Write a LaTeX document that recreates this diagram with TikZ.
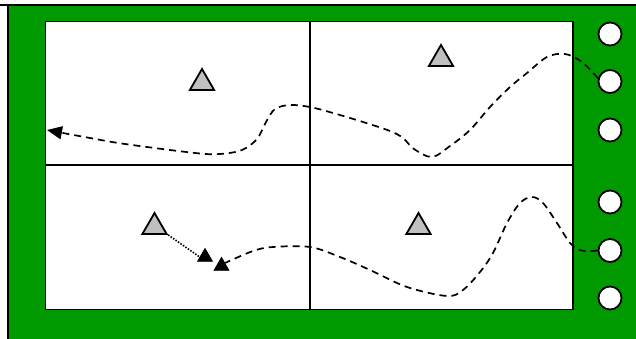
\documentclass[tikz,border=0pt]{standalone}
\usetikzlibrary{shapes.geometric,arrows.meta}
\definecolor{fieldgreen}{RGB}{0,153,0}
\definecolor{tgray}{RGB}{192,192,192}
\begin{document}
\begin{tikzpicture}[x=1pt,y=-1pt,
  hole/.style={circle,draw=black,fill=white,line width=1.8pt,minimum size=23pt,inner sep=0pt},
  graytri/.style={regular polygon,regular polygon sides=3,draw=black,fill=tgray,line width=1.8pt,minimum size=28pt,inner sep=0pt},
  blacktri/.style={regular polygon,regular polygon sides=3,draw=black,fill=black,line width=0.8pt,minimum size=17pt,inner sep=0pt},
  path1/.style={line width=1.7pt,dash pattern=on 7pt off 5pt},
  dots/.style={line width=1.6pt,dash pattern=on 1.5pt off 1.5pt}]
\useasboundingbox (0,0) rectangle (636,339);
\fill[fieldgreen] (8,5) rectangle (636,339);
\draw[line width=2pt] (0,4.7) -- (636,4.7);
\draw[line width=2pt] (7.7,3.8) -- (7.7,339);
\draw[line width=1.7pt,fill=white] (45.5,21.5) rectangle (573,309.5);
\draw[line width=1.6pt] (310,21.5) -- (310,309.5);
\draw[line width=1.6pt] (45.5,165) -- (573,165);
% circles
\node[hole] (c1) at (610,34) {};
\node[hole] (c2) at (610,81.5) {};
\node[hole] (c3) at (610,130) {};
\node[hole] (c4) at (610,202) {};
\node[hole] (c5) at (610,250.5) {};
\node[hole] (c6) at (610,298) {};
% triangles
\node[graytri] (t1) at (202,83) {};
\node[graytri] (t2) at (441,59) {};
\node[graytri] (t3) at (154.5,227) {};
\node[graytri] (t4) at (418.5,227) {};
\node[blacktri] (b1) at (205,257) {};
\node[blacktri] (b2) at (221.5,266) {};
\coordinate (e1) at (47,130);
% dashed curve 1
\draw[path1,-{Triangle[length=15pt,width=13pt]}] plot[smooth,tension=0.55] coordinates {(c2.165) (582,62) (565,54) (547,57) (527,73) (510,87) (490,107) (470,130) (450,146) (432,157) (414,149) (403,138) (390,131) (363,122) (333,113) (310,107) (290,105) (275,109) (266,122) (257,139) (242,150) (220,154) (195,153) (125,144) (90,138) (e1)};
% dashed curve 2
\draw[path1] plot[smooth,tension=0.55] coordinates {(c5.west) (590,251) (580,250) (570,243) (557,223) (543,203) (532,197) (520,203) (507,223) (493,253) (480,272) (463,290) (447,296) (407,287) (370,270) (340,257) (310,247) (273,247) (253,251) (b2.40)};
% dotted connector
\draw[dots] (t3.corner 3) -- (b1.west);
\end{tikzpicture}
\end{document}
